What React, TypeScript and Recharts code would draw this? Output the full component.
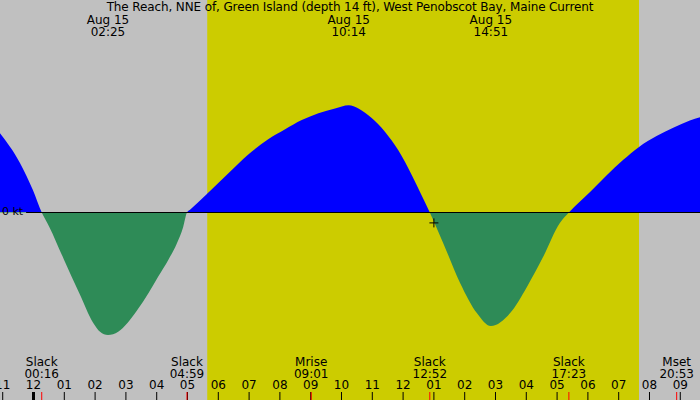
import React from 'react';
import {
  ComposedChart,
  Area,
  XAxis,
  YAxis,
  ReferenceArea,
  ReferenceLine,
  ReferenceDot
} from 'recharts';

// current readings, time in hours from midnight Aug 15, speed in knots (flood +, ebb -)
const hours = [
  -1.088, -0.44, -0.02, 0.267,
  0.513, 0.99, 1.487, 1.94, 2.16, 2.417, 2.75, 3.05, 3.37, 3.73, 4.05, 4.38, 4.65, 4.86, 4.983,
  5.1, 5.63, 6.0, 6.54, 7.08, 7.62, 8.17, 8.71, 9.25, 9.79, 10.233, 10.55, 10.98, 11.41, 11.84, 12.28, 12.6, 12.867,
  13.3, 13.85, 14.4, 14.85, 15.47, 16.02, 16.54, 17.09, 17.383,
  18.07, 18.62, 19.14, 19.66, 20.23, 20.77, 21.31, 21.64
];
const knots = [
  0.99, 0.62, 0.28, 0,
  -0.18, -0.59, -1.01, -1.38, -1.49, -1.53, -1.49, -1.38, -1.22, -1.01, -0.8, -0.59, -0.39, -0.18, 0,
  0.04, 0.23, 0.37, 0.57, 0.76, 0.915, 1.04, 1.155, 1.24, 1.3, 1.34, 1.3, 1.18, 1.01, 0.78, 0.47, 0.215, 0,
  -0.38, -0.88, -1.26, -1.42, -1.26, -0.93, -0.56, -0.13, 0,
  0.256, 0.47, 0.656, 0.82, 0.956, 1.06, 1.15, 1.19
];

const hourTicks = [-1, 0, 1, 2, 3, 4, 5, 6, 7, 8, 9, 10, 11, 12, 13, 14, 15, 16, 17, 18, 19, 20, 21];
const hourLabels = ['11', '12', '01', '02', '03', '04', '05', '06', '07', '08', '09', '10',
  '11', '12', '01', '02', '03', '04', '05', '06', '07', '08', '09'];

const eventTimes = [0.267, 4.983, 9.017, 12.867, 17.383, 20.883];
const eventNames = ['Slack', 'Slack', 'Mrise', 'Slack', 'Slack', 'Mset'];
const eventClock = ['00:16', '04:59', '09:01', '12:52', '17:23', '20:53'];

const peakTimes = [2.417, 10.233, 14.85];
const peakDates = ['Aug 15', 'Aug 15', 'Aug 15'];
const peakClock = ['02:25', '10:14', '14:51'];

const sunrise = 5.64;
const sunset = 19.66;
const nowTime = 13.0;
const nowKnots = -0.13;

const xDomain = [-1.088, 21.64];
const yDomain = [-2.34375, 2.65625];

const FONT = 'DejaVu Sans';

const data = hours.map((h, i) => ({ t: h, kt: knots[i] }));

const HourTick = (props: any) => {
  const { x, index } = props;
  return (
    <g>
      <line x1={x} x2={x} y1={392} y2={400} stroke="#000" strokeWidth={hourTicks[index] === 0 ? 3 : 1} />
      <text x={x} y={389} textAnchor="middle" fontSize={12} fontFamily={FONT} fill="#000">
        {hourLabels[index]}
      </text>
    </g>
  );
};

const EventTick = (props: any) => {
  const { x, index } = props;
  return (
    <g>
      <line x1={x} x2={x} y1={392} y2={400} stroke="#ff0000" strokeWidth={1} />
      <text x={x} y={366} textAnchor="middle" fontSize={12} fontFamily={FONT} fill="#000">
        {eventNames[index]}
      </text>
      <text x={x} y={378} textAnchor="middle" fontSize={12} fontFamily={FONT} fill="#000">
        {eventClock[index]}
      </text>
    </g>
  );
};

const PeakTick = (props: any) => {
  const { x, index } = props;
  return (
    <g>
      <text x={x} y={24} textAnchor="middle" fontSize={12} fontFamily={FONT} fill="#000">
        {peakDates[index]}
      </text>
      <text x={x} y={36} textAnchor="middle" fontSize={12} fontFamily={FONT} fill="#000">
        {peakClock[index]}
      </text>
    </g>
  );
};

const PlusMark = (props: any) => {
  const { cx, cy } = props;
  return (
    <path d={`M${cx - 4.5},${cy} H${cx + 4.5} M${cx},${cy - 4.5} V${cy + 4.5}`} stroke="#000" strokeWidth={1} />
  );
};

export default function App() {
  return (
    <div style={{ position: 'relative', width: 700, height: 400, background: '#c0c0c0', fontFamily: FONT }}>
      <style>{'body{margin:0}'}</style>
      <ComposedChart width={700} height={400} data={data} margin={{ top: -1, right: 0, bottom: -2, left: 0 }}>
        <defs>
          <linearGradient id="flowFill" gradientUnits="userSpaceOnUse" x1={0} y1={0} x2={0} y2={400}>
            <stop offset={0.53125} stopColor="#0000ff" />
            <stop offset={0.53125} stopColor="#2e8b57" />
          </linearGradient>
        </defs>
        <XAxis xAxisId="t" dataKey="t" type="number" domain={xDomain} allowDataOverflow
          ticks={hourTicks} interval={0} height={1} axisLine={false} tickLine={false} tick={<HourTick />} />
        <XAxis xAxisId="ev" dataKey="t" type="number" domain={xDomain} allowDataOverflow
          ticks={eventTimes} interval={0} height={1} axisLine={false} tickLine={false} tick={<EventTick />} />
        <XAxis xAxisId="pk" dataKey="t" orientation="top" type="number" domain={xDomain} allowDataOverflow
          ticks={peakTimes} interval={0} height={1} axisLine={false} tickLine={false} tick={<PeakTick />} />
        <YAxis hide type="number" domain={yDomain} allowDataOverflow />
        <ReferenceArea xAxisId="t" x1={sunrise} x2={sunset} fill="#cccc00" fillOpacity={1} stroke="none" />
        <Area xAxisId="t" type="monotone" dataKey="kt" baseValue={0} stroke="none"
          fill="url(#flowFill)" fillOpacity={1} isAnimationActive={false} />
        <ReferenceLine xAxisId="t" segment={[{ x: -0.24, y: 0 }, { x: 21.64, y: 0 }]} stroke="#000" strokeWidth={1} />
        <ReferenceDot xAxisId="t" x={nowTime} y={nowKnots} r={4} shape={<PlusMark />} />
      </ComposedChart>
      <div style={{ position: 'absolute', left: 0, top: 0, width: 700, textAlign: 'center', fontSize: 12, lineHeight: '14px', letterSpacing: '-0.12px' }}>
        The Reach, NNE of, Green Island (depth 14 ft), West Penobscot Bay, Maine Current
      </div>
      <div style={{ position: 'absolute', left: 2, top: 205, fontSize: 11, lineHeight: '14px' }}>
        0 kt
      </div>
    </div>
  );
}
